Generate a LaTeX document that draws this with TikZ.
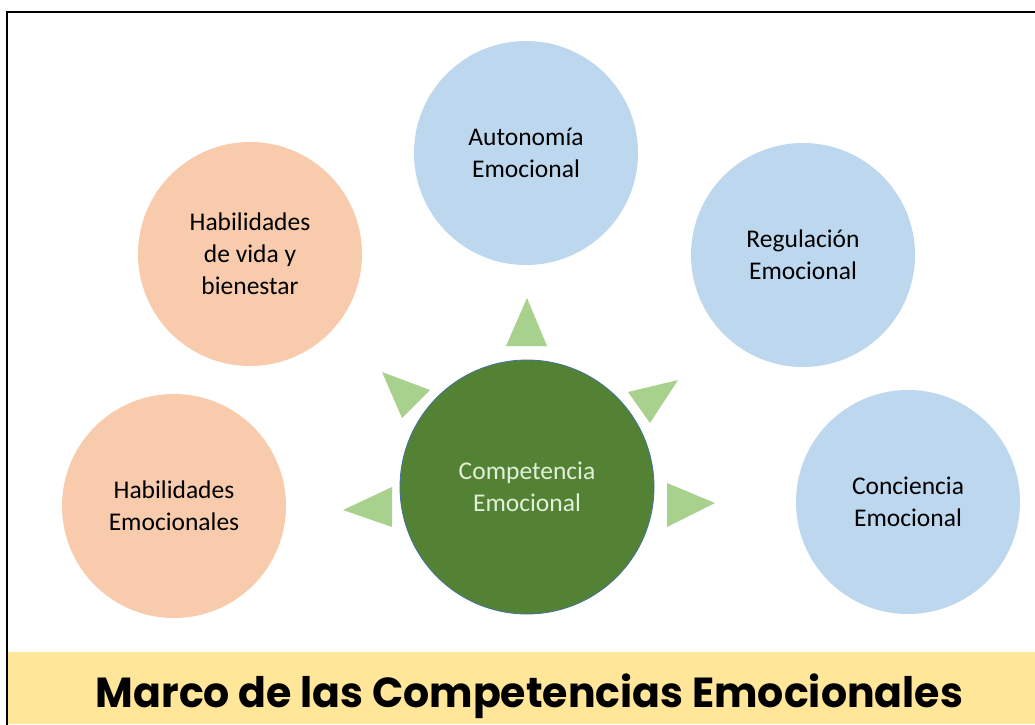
\documentclass[tikz,border=0pt]{standalone}
\usepackage{fontspec}
\usepackage{graphicx}
\setmainfont{Carlito}
\newfontfamily\titlefont{Poppins}
\definecolor{peach}{HTML}{F8CBAD}
\definecolor{lblue}{HTML}{BDD7EE}
\definecolor{dgreen}{HTML}{548235}
\definecolor{ltgreen}{HTML}{A9D18E}
\definecolor{paletext}{HTML}{E2F0D9}
\definecolor{banner}{HTML}{FFE699}
\definecolor{edgeblue}{HTML}{41719C}
\begin{document}
\begin{tikzpicture}[x=1pt,y=-1pt,
  bubble/.style={circle,inner sep=0pt,align=center,text=black,
    font={\fontsize{25.5}{32}\selectfont}},
  peachbubble/.style={bubble,fill=peach,minimum size=224pt},
  bluebubble/.style={bubble,fill=lblue,minimum size=224pt},
  hub/.style={bubble,fill=dgreen,draw=edgeblue,line width=0.8pt,text=paletext,minimum size=254pt},
  tri/.style={fill=ltgreen}]
\useasboundingbox (0,0) rectangle (1035,724);
\fill[white] (0,0) rectangle (1035,724);
% frame
\draw[line width=2.5pt,black] (1036,12) -- (7,12) -- (7,725);
% banner
\fill[banner] (8.3,652) rectangle (1035,724);
\node[font={\titlefont\bfseries\fontsize{42}{48}\selectfont},inner sep=0pt,anchor=base] (title) at (529.5,707)
  {\resizebox{867pt}{\height}{Marco de las Competencias Emocionales}};
% circles
\node[bluebubble] (auto) at (526,153) {Autonom\'ia\\Emocional};
\node[bluebubble] (regu) at (803,255) {Regulaci\'on\\Emocional};
\node[peachbubble] (vida) at (250,254) {Habilidades\\de vida y\\bienestar};
\node[peachbubble] (habe) at (174,506) {Habilidades\\Emocionales};
\node[bluebubble] (conc) at (908,502) {Conciencia\\Emocional};
\node[hub] (comp) at (527,487) {Competencia\\Emocional};
% triangles
\fill[tri] (527,298) -- (547,346) -- (506,346) -- cycle;
\fill[tri] (382,372) -- (430,390) -- (402,418) -- cycle;
\fill[tri] (628,392) -- (678,380) -- (650,423) -- cycle;
\fill[tri] (343,510) -- (392,487) -- (392,527) -- cycle;
\fill[tri] (667,483) -- (715,503) -- (667,527) -- cycle;
\end{tikzpicture}
\end{document}
